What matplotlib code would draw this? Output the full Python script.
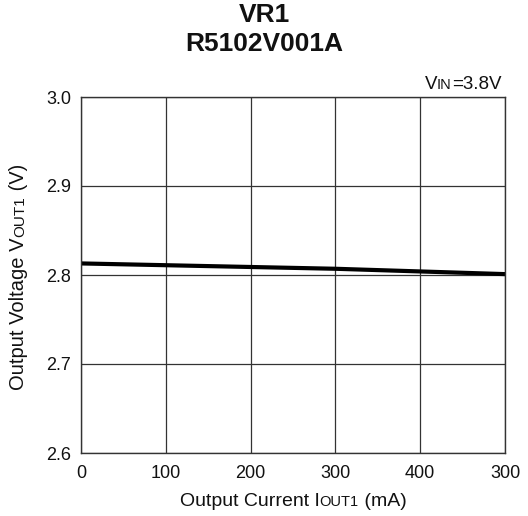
import matplotlib
matplotlib.use("Agg")
import matplotlib.pyplot as plt

plt.rcParams["font.family"] = ["Liberation Sans", "DejaVu Sans"]

# data
current_ma = [0, 100, 200, 300, 400, 500]
vout = [2.813, 2.811, 2.809, 2.807, 2.804, 2.801]
xtick_vals = [0, 100, 200, 300, 400, 500]
xtick_labels = ["0", "100", "200", "300", "400", "300"]
ytick_vals = [2.6, 2.7, 2.8, 2.9, 3.0]


def mixed_text(fig, parts, x, y, rotation=0, color="#111111"):
    """Draw text made of (string, size) parts on one baseline, centred on (x, y) px."""
    r = fig.canvas.get_renderer()
    objs = []
    for s, size in parts:
        t = fig.text(0, 0, s, fontsize=size, color=color, rotation=rotation,
                     rotation_mode="anchor", ha="left", va="baseline",
                     transform=None)
        objs.append(t)
    lengths = []
    for t in objs:
        bb = t.get_window_extent(r)
        lengths.append(bb.height if rotation else bb.width)
    total = sum(lengths)
    pos = -total / 2
    for t, L in zip(objs, lengths):
        if rotation:
            t.set_position((x, y + pos))
        else:
            t.set_position((x + pos, y))
        pos += L
    return objs


fig = plt.figure(figsize=(5.28, 5.16), dpi=100)
ax = fig.add_axes([81 / 528, 63 / 516, 424 / 528, 356 / 516])

ax.plot(current_ma, vout, color="black", lw=3)

ax.set_xlim(0, 500)
ax.set_ylim(2.6, 3.0)
ax.set_xticks(xtick_vals)
ax.set_xticklabels(xtick_labels)
ax.set_yticks(ytick_vals)
ax.set_yticklabels([f"{v:.1f}" for v in ytick_vals])
ax.tick_params(length=0, labelsize=13, colors="#111111")
ax.tick_params(axis="x", pad=9)
ax.tick_params(axis="y", pad=7)
ax.grid(True, color="#333333", lw=0.9)
for sp in ax.spines.values():
    sp.set_color("#333333")
    sp.set_linewidth(1.0)

fig.text(0.5, 1 - 15.5 / 516, "VR1", ha="center", va="center",
         fontsize=19, fontweight="bold", color="#111111")
fig.text(0.5, 1 - 44 / 516, "R5102V001A", ha="center", va="center",
         fontsize=19, fontweight="bold", color="#111111")

H = 516
mixed_text(fig, [("V", 13.5), ("IN", 10.5), ("=3.8V", 13.5)], 463, H - 89)
mixed_text(fig, [("Output Current I", 14), ("OUT1", 10.5), (" (mA)", 14)],
           293, H - 506)
mixed_text(fig, [("Output Voltage V", 14.5), ("OUT1", 11), (" (V)", 14.5)],
           24, H - 277, rotation=90)

fig.savefig("out.png", dpi=100)
